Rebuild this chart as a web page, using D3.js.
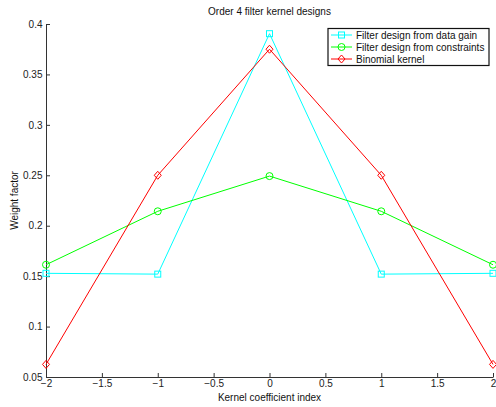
<!DOCTYPE html>
<html>
<head>
<meta charset="utf-8">
<script src="https://cdn.jsdelivr.net/npm/d3@7"></script>
<style>
  html, body { margin: 0; padding: 0; background: #fff; }
  svg { display: block; }
  text { font-family: "Liberation Sans", Arial, Helvetica, sans-serif; }
</style>
</head>
<body>
<script>
// Kernel coefficient positions and weights for each design
const kernelIndex = [-2, -1, 0, 1, 2];
const dataGainWeights = [0.1528, 0.1520, 0.3904, 0.1520, 0.1528];
const constraintWeights = [0.1613, 0.2143, 0.2492, 0.2143, 0.1613];
const binomialWeights = [0.0625, 0.25, 0.375, 0.25, 0.0625];

const xTicks = [-2, -1.5, -1, -0.5, 0, 0.5, 1, 1.5, 2];
const yTicks = [0.05, 0.1, 0.15, 0.2, 0.25, 0.3, 0.35, 0.4];

const seriesNames = [
  "Filter design from data gain",
  "Filter design from constraints",
  "Binomial kernel"
];
const seriesColors = ["#00ffff", "#00ff00", "#ff0000"];
const seriesMarkers = ["square", "circle", "diamond"];
const seriesValues = [dataGainWeights, constraintWeights, binomialWeights];

const W = 496, H = 407;
const margin = { left: 46, right: 3, top: 24, bottom: 30 };

const svg = d3.select("body").append("svg")
  .attr("width", W).attr("height", H);

const x = d3.scaleLinear().domain([-2, 2]).range([margin.left, W - margin.right]);
const y = d3.scaleLinear().domain([0.05, 0.4]).range([H - margin.bottom, margin.top]);

const fmt = d => {
  const s = String(+d.toFixed(2));
  return s.startsWith("-") ? "\u2212" + s.slice(1) : s;
};

// Axes with inward ticks
const xAxis = svg.append("g")
  .attr("transform", `translate(0,${y.range()[0]})`)
  .call(d3.axisBottom(x).tickValues(xTicks).tickFormat(fmt)
    .tickSizeInner(-4).tickSizeOuter(0).tickPadding(3));
const yAxis = svg.append("g")
  .attr("transform", `translate(${x.range()[0]},0)`)
  .call(d3.axisLeft(y).tickValues(yTicks).tickFormat(fmt)
    .tickSizeInner(-4).tickSizeOuter(0).tickPadding(3));

[xAxis, yAxis].forEach(g => {
  g.select(".domain").attr("stroke", "#333").attr("stroke-width", 1);
  g.selectAll(".tick line").attr("stroke", "#333");
  g.selectAll(".tick text").attr("fill", "#222")
    .style("font-size", "10px")
    .style("font-family", "'Liberation Sans', Arial, sans-serif");
});
yAxis.selectAll(".tick text").attr("dx", "-0.5");

// Marker shapes
function drawMarker(sel, type, color) {
  if (type === "square") {
    sel.append("rect").attr("x", -3).attr("y", -3).attr("width", 6).attr("height", 6)
      .attr("fill", "none").attr("stroke", color).attr("stroke-width", 1);
  } else if (type === "circle") {
    sel.append("circle").attr("r", 3.5)
      .attr("fill", "none").attr("stroke", color).attr("stroke-width", 1);
  } else {
    sel.append("path").attr("d", "M0,-4L3.5,0L0,4L-3.5,0Z")
      .attr("fill", "none").attr("stroke", color).attr("stroke-width", 1);
  }
}

const line = d3.line().x(d => x(d[0])).y(d => y(d[1]));

seriesValues.forEach((vals, i) => {
  const pts = kernelIndex.map((k, j) => [k, vals[j]]);
  const g = svg.append("g");
  g.append("path").datum(pts).attr("d", line)
    .attr("fill", "none").attr("stroke", seriesColors[i]).attr("stroke-width", 1);
  g.selectAll("g.m").data(pts).enter().append("g")
    .attr("transform", d => `translate(${x(d[0])},${y(d[1])})`)
    .each(function () { drawMarker(d3.select(this), seriesMarkers[i], seriesColors[i]); });
});

// Title and axis labels
svg.append("text").attr("x", (x.range()[0] + x.range()[1]) / 2).attr("y", 15)
  .attr("text-anchor", "middle").style("font-size", "10px").attr("fill", "#111")
  .text("Order 4 filter kernel designs");
svg.append("text").attr("x", (x.range()[0] + x.range()[1]) / 2).attr("y", 401)
  .attr("text-anchor", "middle").style("font-size", "10px").attr("fill", "#111")
  .text("Kernel coefficient index");
svg.append("text")
  .attr("transform", `translate(18,${(y.range()[0] + y.range()[1]) / 2}) rotate(-90)`)
  .attr("text-anchor", "middle").style("font-size", "10px").attr("fill", "#111")
  .text("Weight factor");

// Legend
const legend = svg.append("g").attr("transform", "translate(328,28.5)");
legend.append("rect").attr("width", 161).attr("height", 37)
  .attr("fill", "#fff").attr("stroke", "#111").attr("stroke-width", 1.2);
seriesNames.forEach((name, i) => {
  const row = legend.append("g").attr("transform", `translate(0,${6.5 + i * 12})`);
  row.append("line").attr("x1", 3).attr("x2", 24).attr("y1", 0).attr("y2", 0)
    .attr("stroke", seriesColors[i]).attr("stroke-width", 1);
  const m = row.append("g").attr("transform", "translate(13.5,0)");
  drawMarker(m, seriesMarkers[i], seriesColors[i]);
  row.append("text").attr("x", 28).attr("y", 3.5)
    .style("font-size", "10px").attr("fill", "#111").text(name);
});
</script>
</body>
</html>
